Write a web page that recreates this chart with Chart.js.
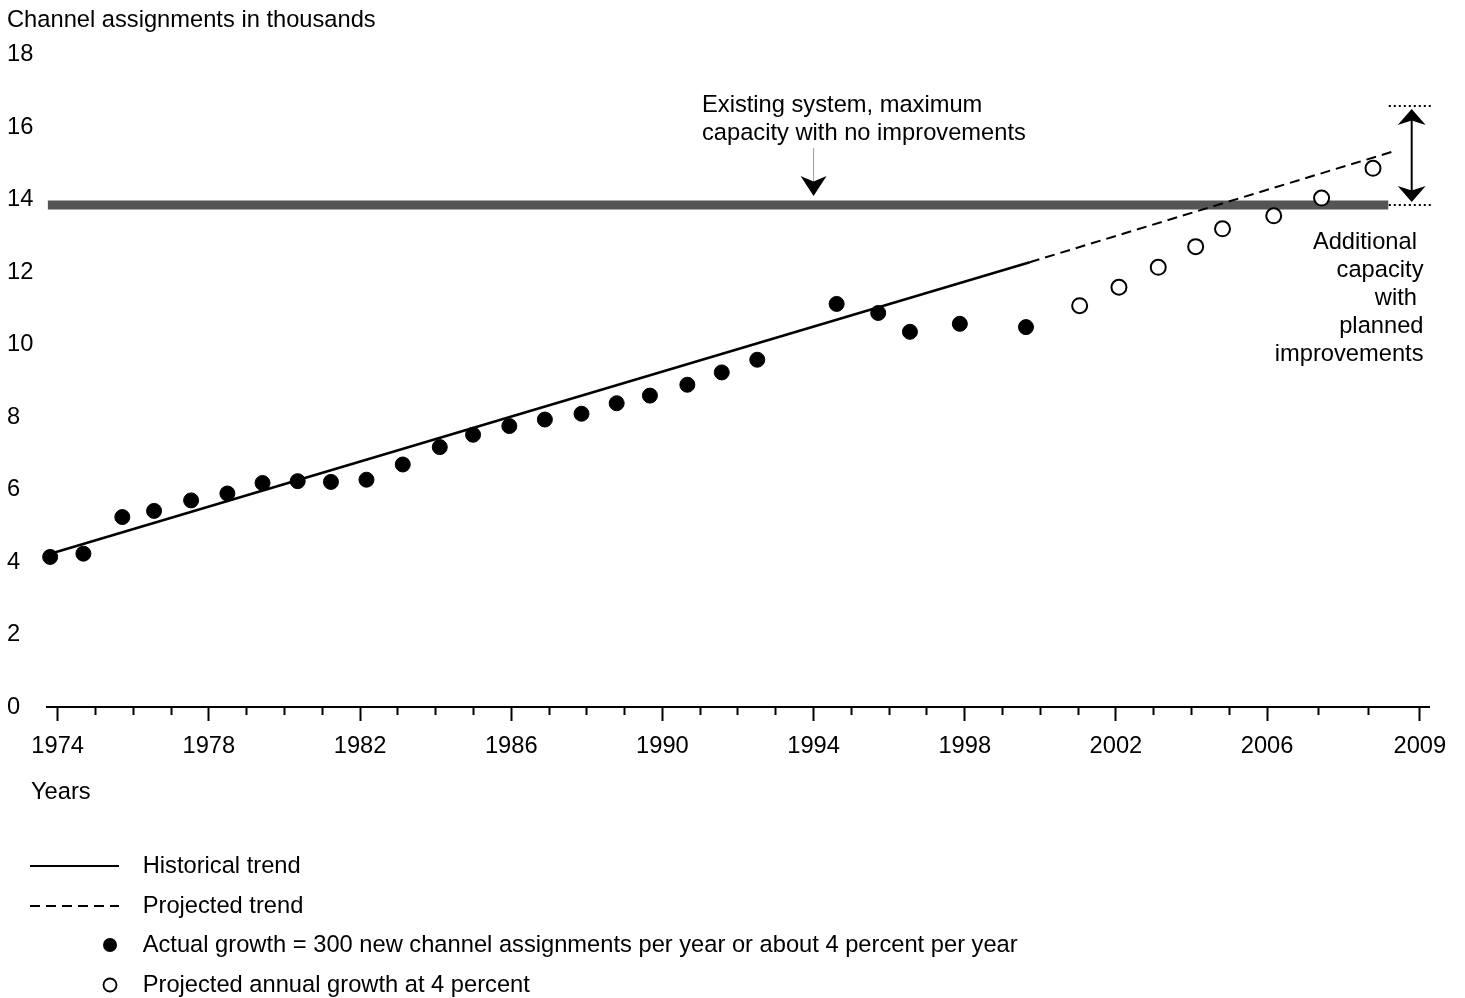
<!DOCTYPE html>
<html lang="en">
<head>
  <meta charset="UTF-8">
  <title>Channel assignments in thousands</title>
  <script src="https://cdn.jsdelivr.net/npm/chart.js"></script>
  <style>
    html, body { margin: 0; padding: 0; background: #fff; }
  </style>
</head>
<body>
<canvas id="capacityChart" width="1465" height="998"></canvas>

<script>
  // years with a tick mark, and the ones that get a label
  const tickYears = [1974, 1975, 1976, 1977, 1978, 1979, 1980, 1981, 1982, 1983, 1984, 1985,
    1986, 1987, 1988, 1989, 1990, 1991, 1992, 1993, 1994, 1995, 1996, 1997, 1998, 1999,
    2000, 2001, 2002, 2003, 2004, 2005, 2006, 2007, 2008, 2009];
  const labelYears = [1974, 1978, 1982, 1986, 1990, 1994, 1998, 2002, 2006, 2009];
  const yTicks = [0, 2, 4, 6, 8, 10, 12, 14, 16, 18];

  // actual growth (filled dots)
  const actualYears = [1973.80, 1974.68, 1975.71, 1976.55, 1977.53, 1978.49, 1979.42, 1980.35,
    1981.23, 1982.17, 1983.13, 1984.11, 1984.99, 1985.95, 1986.89, 1987.86, 1988.79, 1989.67,
    1990.66, 1991.57, 1992.51, 1994.61, 1995.71, 1996.55, 1997.87, 1999.62];
  const actualValues = [4.14, 4.23, 5.24, 5.41, 5.70, 5.89, 6.18, 6.23,
    6.21, 6.27, 6.69, 7.17, 7.51, 7.75, 7.93, 8.09, 8.38, 8.59,
    8.89, 9.23, 9.58, 11.12, 10.87, 10.35, 10.57, 10.48];

  // projected annual growth at 4 percent (open circles)
  const projectedYears = [2001.04, 2002.08, 2003.12, 2004.11, 2004.82, 2006.13, 2007.07, 2008.08];
  const projectedValues = [11.07, 11.58, 12.13, 12.70, 13.19, 13.55, 14.04, 14.86];

  // trend lines
  const historicalTrendYears = [1973.85, 1999.72];
  const historicalTrendValues = [4.24, 12.27];
  const projectedTrendYears = [1999.72, 2008.51];
  const projectedTrendValues = [12.27, 15.34];

  // capacity of the existing system and with planned improvements
  const capacityYears = [1973.74, 2008.38];
  const capacityNow = 13.85;
  const capacityPlanned = 16.58;
  const capacityMarkYears = [2008.39, 2009.26];
  const capacityArrowYear = 2008.84;
  const noteArrowYear = 1994;

  // the axis is drawn wider per year after 2006
  const bendYear = 2006;
  const stretch = 1.347;

  const yTitle = 'Channel assignments in thousands';
  const xTitle = 'Years';
  const noteLines = ['Existing system, maximum', 'capacity with no improvements'];
  const sideNoteLines = ['Additional ', 'capacity', 'with ', 'planned', 'improvements'];
  const legendLabels = [
    'Historical trend',
    'Projected trend',
    'Actual growth = 300 new channel assignments per year or about 4 percent per year',
    'Projected annual growth at 4 percent'
  ];

  const FONT = '"Liberation Sans", Arial, Helvetica, sans-serif';
  const SIZE = 23.7;
  Chart.defaults.font.family = FONT;
  Chart.defaults.font.size = SIZE;
  Chart.defaults.color = '#000';

  // linear scale with a wider year spacing after bendYear
  class BentYearScale extends Chart.LinearScale {
    pos(v) { return v <= bendYear ? v : bendYear + (v - bendYear) * stretch; }
    unpos(p) { return p <= bendYear ? p : bendYear + (p - bendYear) / stretch; }
    getPixelForValue(v) {
      const a = this.pos(this.min), b = this.pos(this.max);
      return this.getPixelForDecimal((this.pos(v) - a) / (b - a));
    }
    getValueForPixel(px) {
      const a = this.pos(this.min), b = this.pos(this.max);
      return this.unpos(a + this.getDecimalForPixel(px) * (b - a));
    }
  }
  BentYearScale.id = 'bentYear';
  Chart.register(BentYearScale);

  const pts = (xs, ys) => xs.map((x, i) => ({ x: x, y: ys[i] }));
  const flat = (xs, v) => xs.map(x => ({ x: x, y: v }));

  function arrowHead(ctx, x, y, dir, w, h) {
    // barbed head, tip at (x, y), dir = 1 points down, -1 points up
    ctx.beginPath();
    ctx.moveTo(x, y);
    ctx.lineTo(x - w / 2, y - dir * h);
    ctx.lineTo(x, y - dir * h * 0.72);
    ctx.lineTo(x + w / 2, y - dir * h);
    ctx.closePath();
    ctx.fill();
  }

  const decor = {
    id: 'decor',
    afterDatasetsDraw(chart) {
      const { ctx, scales: { x, y } } = chart;
      ctx.save();
      ctx.fillStyle = '#000';
      ctx.font = SIZE + 'px ' + FONT;
      ctx.textBaseline = 'middle';
      ctx.textAlign = 'left';
      ctx.fillText(yTitle, 7, 20);
      ctx.fillText(xTitle, 31, 792);

      // note over the capacity bar
      noteLines.forEach((t, i) => ctx.fillText(t, 702, 105 + i * 28));
      const ax = x.getPixelForValue(noteArrowYear);
      const barTop = y.getPixelForValue(capacityNow) - 5;
      ctx.strokeStyle = '#999';
      ctx.lineWidth = 1;
      ctx.beginPath();
      ctx.moveTo(ax, 148);
      ctx.lineTo(ax, barTop - 18);
      ctx.stroke();
      arrowHead(ctx, ax, barTop - 4, 1, 26, 20);

      // double arrow for the added capacity
      const dx = x.getPixelForValue(capacityArrowYear);
      const yTop = y.getPixelForValue(capacityPlanned) + 3;
      const yBot = y.getPixelForValue(capacityNow) - 3;
      ctx.strokeStyle = '#000';
      ctx.lineWidth = 2;
      ctx.beginPath();
      ctx.moveTo(dx, yTop + 8);
      ctx.lineTo(dx, yBot - 8);
      ctx.stroke();
      arrowHead(ctx, dx, yTop, -1, 28, 16);
      arrowHead(ctx, dx, yBot, 1, 28, 16);

      ctx.textAlign = 'right';
      sideNoteLines.forEach((t, i) => ctx.fillText(t, 1423.5, 242 + i * 28));

      // legend
      ctx.textAlign = 'left';
      const ly = [866, 906, 945, 985];
      ctx.lineWidth = 2;
      ctx.beginPath();
      ctx.moveTo(30, ly[0]);
      ctx.lineTo(119, ly[0]);
      ctx.stroke();
      ctx.setLineDash([10, 6]);
      ctx.beginPath();
      ctx.moveTo(30, ly[1]);
      ctx.lineTo(119, ly[1]);
      ctx.stroke();
      ctx.setLineDash([]);
      ctx.beginPath();
      ctx.arc(110, ly[2], 7, 0, Math.PI * 2);
      ctx.fill();
      ctx.lineWidth = 1.8;
      ctx.beginPath();
      ctx.arc(110, ly[3], 6.5, 0, Math.PI * 2);
      ctx.stroke();
      legendLabels.forEach((t, i) => ctx.fillText(t, 142.7, ly[i]));
      ctx.restore();
    }
  };

  const ctx = document.getElementById('capacityChart').getContext('2d');
  const capacityChart = new Chart(ctx, {
    type: 'scatter',
    data: {
      datasets: [
        {
          label: 'Projected annual growth at 4 percent',
          data: pts(projectedYears, projectedValues),
          pointRadius: 7.5,
          pointBackgroundColor: '#fff',
          pointBorderColor: '#000',
          pointBorderWidth: 2,
          clip: false
        },
        {
          label: 'Actual growth',
          data: pts(actualYears, actualValues),
          pointRadius: 7.5,
          pointBackgroundColor: '#000',
          pointBorderColor: '#000',
          pointBorderWidth: 1,
          clip: false
        },
        {
          label: 'Projected trend',
          data: pts(projectedTrendYears, projectedTrendValues),
          showLine: true,
          borderColor: '#000',
          borderWidth: 2,
          borderDash: [10, 6],
          pointRadius: 0,
          clip: false
        },
        {
          label: 'Historical trend',
          data: pts(historicalTrendYears, historicalTrendValues),
          showLine: true,
          borderColor: '#000',
          borderWidth: 2.5,
          pointRadius: 0,
          clip: false
        },
        {
          label: 'Planned capacity',
          data: flat(capacityMarkYears, capacityPlanned),
          showLine: true,
          borderColor: '#000',
          borderWidth: 2,
          borderDash: [2, 3],
          pointRadius: 0,
          clip: false
        },
        {
          label: 'Capacity mark',
          data: flat(capacityMarkYears, capacityNow),
          showLine: true,
          borderColor: '#000',
          borderWidth: 2,
          borderDash: [2, 3],
          pointRadius: 0,
          clip: false
        },
        {
          label: 'Existing capacity',
          data: flat(capacityYears, capacityNow),
          showLine: true,
          borderColor: '#555',
          borderWidth: 9,
          borderCapStyle: 'butt',
          pointRadius: 0,
          clip: false
        }
      ]
    },
    options: {
      responsive: false,
      devicePixelRatio: 1,
      animation: false,
      events: [],
      layout: { padding: { top: 54.5, right: 36, bottom: 0, left: 7 } },
      plugins: {
        legend: { display: false },
        tooltip: { enabled: false },
        title: { display: false }
      },
      scales: {
        x: {
          type: 'bentYear',
          min: 1973.717,
          max: 2009.18,
          afterFit: (s) => { s.height = 998 - 707; },
          afterBuildTicks: (s) => { s.ticks = tickYears.map(v => ({ value: v })); },
          border: { display: true, color: '#000', width: 2 },
          grid: {
            drawOnChartArea: false,
            tickLength: 14,
            tickWidth: 2,
            tickColor: '#000',
            tickBorderDash: (c) => labelYears.includes(c.tick && c.tick.value) ? [] : [7, 100]
          },
          ticks: {
            autoSkip: false,
            maxRotation: 0,
            padding: 11,
            callback: (v) => labelYears.includes(v) ? String(v) : ''
          }
        },
        y: {
          min: 0,
          max: 18,
          afterFit: (s) => { s.width = 40; },
          afterBuildTicks: (s) => { s.ticks = yTicks.map(v => ({ value: v })); },
          border: { display: false },
          grid: { display: false, drawTicks: false },
          ticks: { crossAlign: 'far', padding: 0 }
        }
      }
    },
    plugins: [decor]
  });
</script>
</body>
</html>
